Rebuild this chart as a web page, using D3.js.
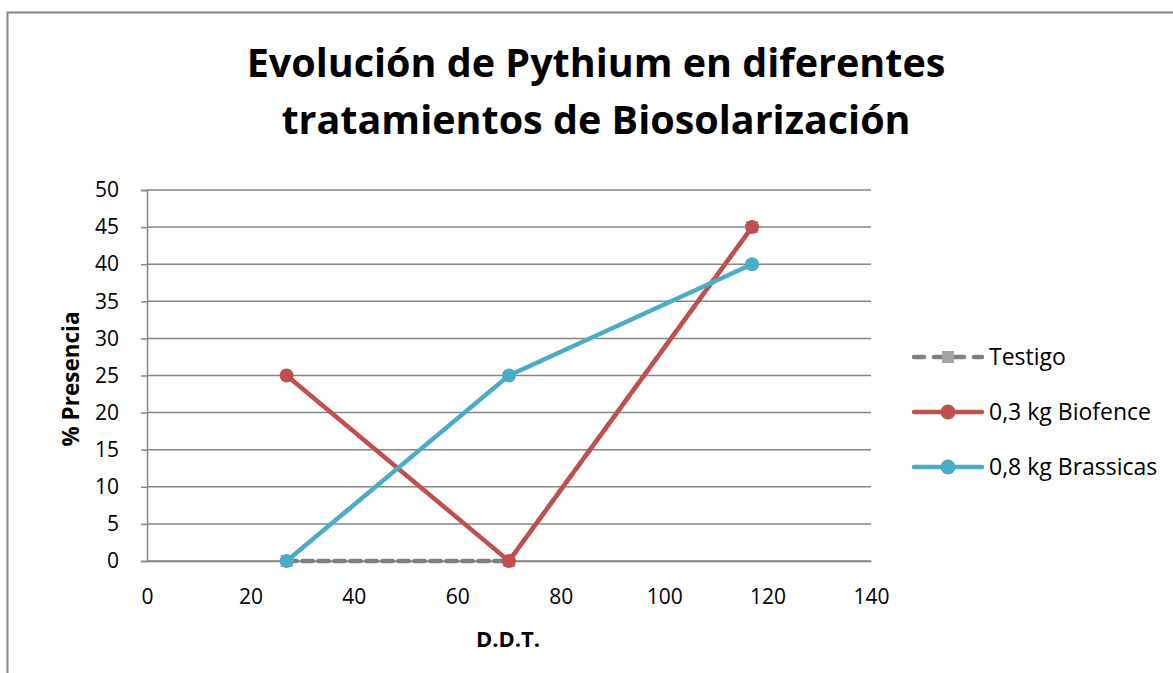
<!DOCTYPE html>
<html>
<head>
<meta charset="utf-8">
<script src="https://cdn.jsdelivr.net/npm/d3@7"></script>
<style>
  body { margin: 0; background: #fff; }
  svg { display: block; font-family: "Open Sans", Lato, sans-serif; }
</style>
</head>
<body>
<div id="chart"></div>
<script>
var w = 1173,
    h = 673;

// data
var days = [27, 70, 117];
var testigo = [0, 0, 45];
var biofence = [25, 0, 45];
var brassicas = [0, 25, 40];
var seriesNames = ["Testigo", "0,3 kg Biofence", "0,8 kg Brassicas"];
var seriesColors = ["#7f7f7f", "#c0504d", "#4bacc6"];
var xTicks = [0, 20, 40, 60, 80, 100, 120, 140];
var yTicks = [0, 5, 10, 15, 20, 25, 30, 35, 40, 45, 50];
var titleLines = ["Evolución de Pythium en diferentes", "tratamientos de Biosolarización"];

var series = [testigo, biofence, brassicas].map(function (vals, i) {
    return {
        name: seriesNames[i],
        color: seriesColors[i],
        points: vals.map(function (v, k) { return { x: days[k], y: v }; })
    };
});

var svg = d3.select("#chart")
    .append("svg")
    .attr("width", w)
    .attr("height", h);

//outer chart border
svg.append("rect")
    .attr("x", 7.5)
    .attr("y", 12.5)
    .attr("width", w)
    .attr("height", h)
    .attr("fill", "#fff")
    .attr("stroke", "#868686")
    .attr("stroke-width", 2);

var xScale = d3.scaleLinear().domain([0, 140]).range([147, 871]);
var yScale = d3.scaleLinear().domain([0, 50]).range([561, 190]);

//title
svg.append("g")
    .selectAll("text")
    .data(titleLines)
    .enter().append("text")
    .attr("x", 596)
    .attr("y", function (d, i) { return 77 + i * 57; })
    .attr("text-anchor", "middle")
    .style("font-weight", "bold")
    .style("font-size", "39.5px")
    .text(function (d) { return d; });

//gridlines
svg.append("g")
    .selectAll("line")
    .data(yTicks)
    .enter().append("line")
    .attr("x1", xScale(0))
    .attr("x2", xScale(140))
    .attr("y1", function (d) { return yScale(d); })
    .attr("y2", function (d) { return yScale(d); })
    .attr("stroke", "#868686")
    .attr("stroke-width", 1.5);

//y axis
var yAxis = d3.axisLeft(yScale)
    .tickValues(yTicks)
    .tickSize(6)
    .tickPadding(22);
var gY = svg.append("g")
    .attr("transform", "translate(" + xScale(0) + ",0)")
    .call(yAxis);
gY.select(".domain").attr("stroke", "#868686").attr("stroke-width", 1.5);
gY.selectAll(".tick line").attr("stroke", "#868686").attr("stroke-width", 1.5);
gY.selectAll(".tick text")
    .style("font-size", "21px")
    .style("font-family", "'Open Sans', sans-serif")
    .attr("fill", "#000");

//x axis
var xAxis = d3.axisBottom(xScale)
    .tickValues(xTicks)
    .tickSize(0)
    .tickPadding(28);
var gX = svg.append("g")
    .attr("transform", "translate(0," + yScale(0) + ")")
    .call(xAxis);
gX.select(".domain").attr("stroke", "#868686").attr("stroke-width", 1.5);
gX.selectAll(".tick text")
    .style("font-size", "21px")
    .style("font-family", "'Open Sans', sans-serif")
    .attr("fill", "#000");

//axis titles
svg.append("text")
    .attr("transform", "translate(79,379) rotate(-90)")
    .attr("text-anchor", "middle")
    .style("font-weight", "bold")
    .style("font-size", "22.5px")
    .text("% Presencia");

svg.append("text")
    .attr("x", 508)
    .attr("y", 647)
    .attr("text-anchor", "middle")
    .style("font-weight", "bold")
    .style("font-size", "22px")
    .text("D.D.T.");

//series lines and markers
var line = d3.line()
    .x(function (d) { return xScale(d.x); })
    .y(function (d) { return yScale(d.y); });

series.forEach(function (s, i) {
    var g = svg.append("g").attr("class", "series");
    g.append("path")
        .datum(s.points)
        .attr("d", line)
        .attr("fill", "none")
        .attr("stroke", s.color)
        .attr("stroke-width", 4.5)
        .attr("stroke-linecap", "round")
        .attr("stroke-dasharray", i === 0 ? "10,6" : null);
    if (i === 0) {
        g.selectAll("rect")
            .data(s.points)
            .enter().append("rect")
            .attr("x", function (d) { return xScale(d.x) - 6; })
            .attr("y", function (d) { return yScale(d.y) - 6; })
            .attr("width", 12)
            .attr("height", 12)
            .attr("fill", "#a5a5a5");
    } else {
        g.selectAll("circle")
            .data(s.points)
            .enter().append("circle")
            .attr("cx", function (d) { return xScale(d.x); })
            .attr("cy", function (d) { return yScale(d.y); })
            .attr("r", 7)
            .attr("fill", s.color);
    }
});

//legend
var legend = svg.append("g")
    .selectAll("g")
    .data(series)
    .enter().append("g")
    .attr("transform", function (d, i) { return "translate(914," + (357 + i * 55) + ")"; });

legend.append("line")
    .attr("x1", 0)
    .attr("x2", 68)
    .attr("stroke", function (d) { return d.color; })
    .attr("stroke-width", 4.5)
    .attr("stroke-linecap", "round")
    .attr("stroke-dasharray", function (d, i) { return i === 0 ? "10,10" : null; });

legend.each(function (d, i) {
    var g = d3.select(this);
    if (i === 0) {
        g.append("rect")
            .attr("x", 28).attr("y", -6)
            .attr("width", 12).attr("height", 12)
            .attr("fill", "#a5a5a5");
    } else {
        g.append("circle")
            .attr("cx", 34).attr("r", 7.5)
            .attr("fill", d.color);
    }
});

legend.append("text")
    .attr("x", 75)
    .attr("y", 8)
    .style("font-size", "23px")
    .text(function (d) { return d.name; });
</script>
</body>
</html>
